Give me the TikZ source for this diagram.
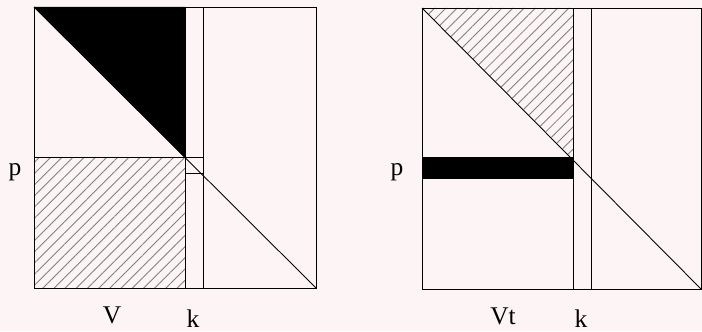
\documentclass[tikz,border=0pt]{standalone}
\usepackage{fontspec}
\setmainfont{Liberation Serif}
\usepackage{xcolor}
\usepackage{tikz}
\usetikzlibrary{patterns.meta}
\definecolor{bgpink}{RGB}{253,245,245}

\begin{document}
\begin{tikzpicture}[
        x=0.02cm, y=-0.02cm,
        frame/.style={draw=black, line width=0.5pt},
        hatch/.style={pattern={Lines[angle=45, distance=4.5pt, line width=0.5pt]}, pattern color=gray},
        lbl/.style={anchor=base, inner sep=0pt, font=\fontsize{14.5}{17}\selectfont}
    ]
    
    % Background
    \fill[bgpink] (0,0) rectangle (702,331);
    \useasboundingbox (0,0) rectangle (702,331);
    
    % Left matrix
    \fill[black] (34,7) -- (185,7) -- (185,158) -- cycle;
    \fill[hatch] (34,157) rectangle (185,288);
    \draw[frame] (34,7) rectangle (316,288);
    \draw[frame] (185,7) -- (185,288);
    \draw[frame] (203,7) -- (203,288);
    \draw[frame] (34,7) -- (316,288);
    \draw[frame] (34,157) -- (203,157);
    \draw[frame] (185,173) -- (203,173);
    
    \node[lbl] (pleft) at (15,175) {p};
    \node[lbl] (vleft) at (112,323) {V};
    \node[lbl] (kleft) at (193,327) {k};
    
    % Right matrix
    \fill[hatch] (422,8) -- (573,8) -- (573,159) -- cycle;
    \fill[black] (422,157) rectangle (573,179);
    \draw[frame] (422,8) rectangle (701,289);
    \draw[frame] (573,8) -- (573,289);
    \draw[frame] (591,8) -- (591,289);
    \draw[frame] (422,8) -- (701,289);
    
    \node[lbl] (pright) at (397,175) {p};
    \node[lbl] (vright) at (503,324) {Vt};
    \node[lbl] (kright) at (581,327) {k};
    
\end{tikzpicture}
\end{document}
